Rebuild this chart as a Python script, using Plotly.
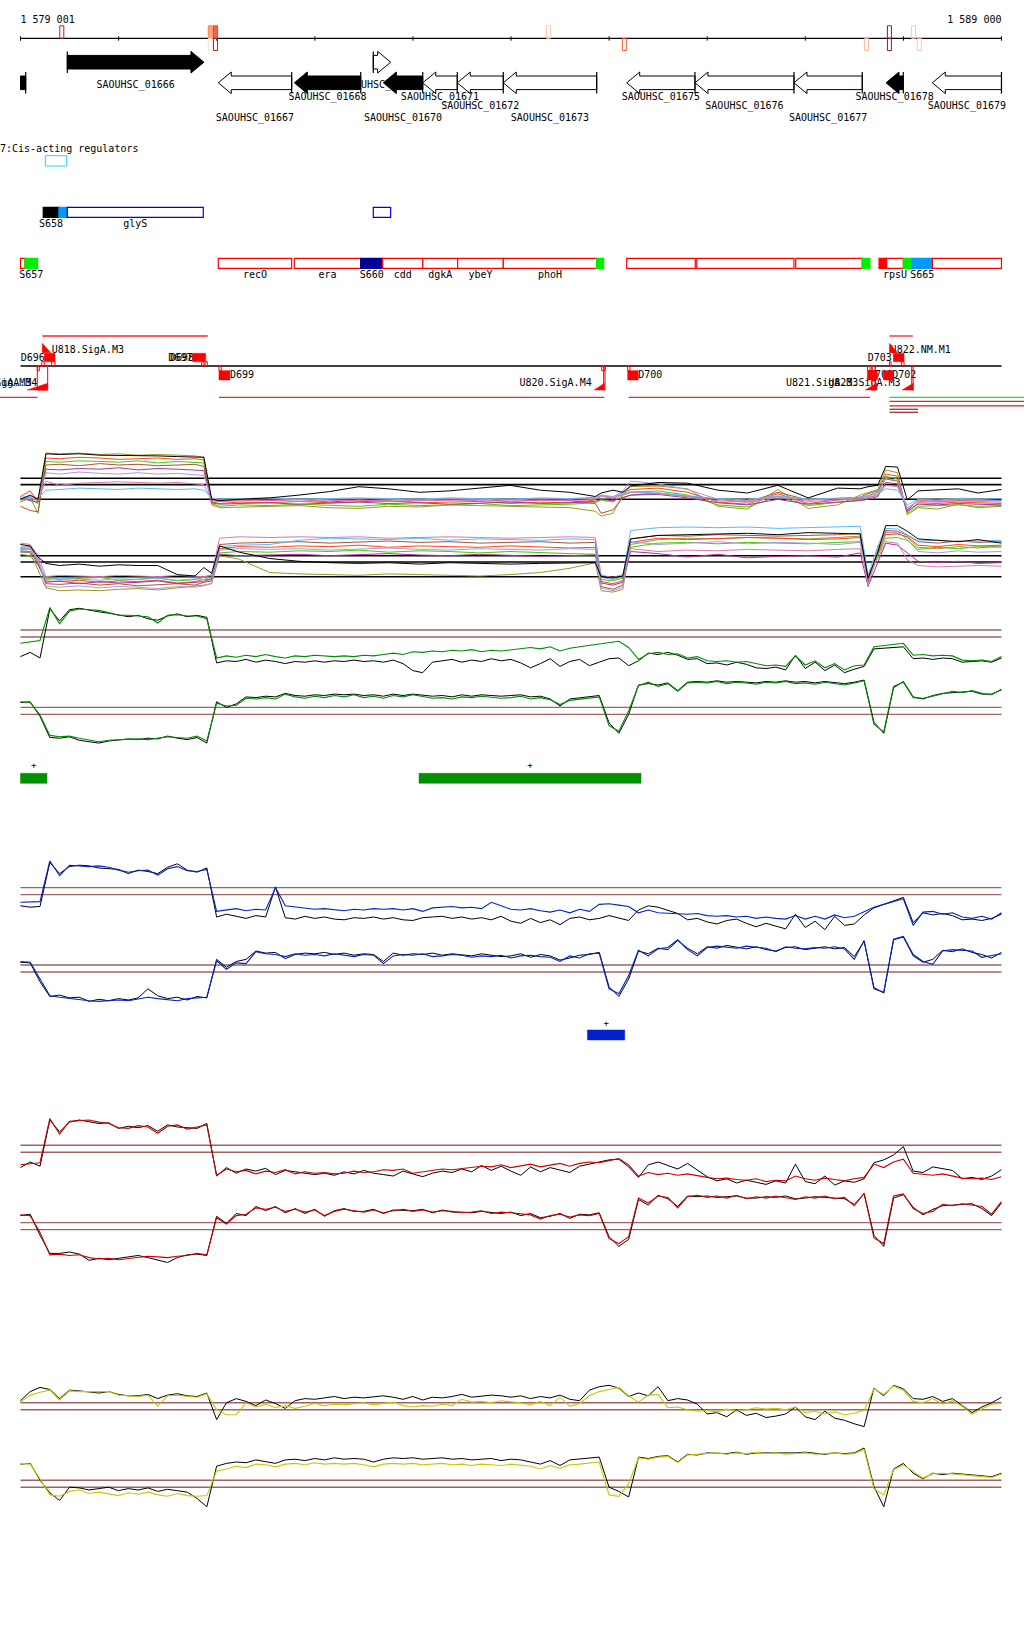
import plotly.graph_objects as go

# ===================== DATA =====================
WIN_START = 1579001
WIN_END = 1589000
TICK_STEP = 1000
ruler_left_label = "1 579 001"
ruler_right_label = "1 589 000"

# ruler feature marks (bp) and their colours above / below the axis
mark_pos = [1579422, 1580935, 1580989, 1584383, 1585156, 1587624, 1587858, 1588103, 1588162]
mark_up_line = ["#b22222", "#ff7f50", "#e0482a", "#ffc8b8", None, None, "#a01818", "#ffc8b8", None]
mark_up_fill = [None, "#ffa585", "#ff6347", None, None, None, None, None, None]
mark_dn_line = [None, "#ffdccc", "#a52a2a", None, "#ff5533", "#ffb8a8", "#a01818", None, "#ffc8b8"]

# genes
gene_name = ["", "SAOUHSC_01666", "SAOUHSC_01667", "SAOUHSC_01668", "SAOUHSC_01669", "SAOUHSC_01670",
             "SAOUHSC_01671", "SAOUHSC_01672", "SAOUHSC_01673", "SAOUHSC_01675", "SAOUHSC_01676",
             "SAOUHSC_01677", "SAOUHSC_01678", "SAOUHSC_01679"]
gene_start = [1578850, 1579478, 1581017, 1581792, 1582597, 1582699, 1583101, 1583453, 1583922,
              1585180, 1585876, 1586885, 1587823, 1588295]
gene_end = [1579054, 1580871, 1581765, 1582469, 1582774, 1583101, 1583453, 1583922, 1584874,
            1585876, 1586885, 1587581, 1587999, 1589000]
gene_strand = ["-", "+", "-", "-", "+", "-", "-", "-", "-", "-", "-", "-", "-", "-"]
gene_fill = ["black", "black", "white", "black", "white", "black", "white", "white", "white",
             "white", "white", "white", "black", "white"]
gene_label_level = [None, 0, 3, 1, 0, 3, 1, 2, 3, 1, 2, 3, 1, 2]

# cis-acting regulators
cis_title = "7:Cis-acting regulators"
cis_start = [1579254]
cis_end = [1579472]

# segment rows
seg1_start = [1579233, 1579393, 1579478, 1582597]
seg1_end = [1579393, 1579478, 1580864, 1582774]
seg1_kind = ["black", "sky", "blue_open", "blue_open"]
seg1_label = ["S658", "", "glyS", ""]

seg2_start = [1579001, 1579047, 1581017, 1581792, 1582469, 1582693, 1583101, 1583457, 1583922, 1584874,
              1585180, 1585894, 1586903, 1587581, 1587752, 1587830, 1588000, 1588089, 1588296]
seg2_end = [1579047, 1579176, 1581765, 1582469, 1582693, 1583101, 1583457, 1583922, 1584874, 1584945,
            1585879, 1586885, 1587581, 1587660, 1587830, 1588000, 1588089, 1588296, 1589000]
seg2_kind = ["red_open", "green", "red_open", "red_open", "navy", "red_open", "red_open", "red_open",
             "red_open", "green", "red_open", "red_open", "red_open", "green", "red", "red_open",
             "green", "sky", "red_open"]
seg2_label = ["", "S657", "recO", "era", "S660", "cdd", "dgkA", "ybeY", "phoH", "", "", "", "", "",
              "", "rpsU", "", "S665", ""]

# promoter / terminator track
up_box = [(1579244, 1579353), (1580756, 1580889), (1587898, 1588007)]
dn_box = [(1581024, 1581136), (1585190, 1585298), (1587633, 1587735), (1587796, 1587898)]
up_tri = [(1579223, 1579310), (1587858, 1587940)]
dn_tri = [(1579070, 1579278), (1584850, 1584952), (1587612, 1587731), (1587988, 1588100)]
up_tick = [(1579217, 1579244), (1579319, 1579353), (1580848, 1580871), (1580882, 1580905),
           (1587858, 1587875), (1587980, 1588007)]
dn_tick = [(1579172, 1579193), (1581024, 1581048), (1584925, 1584959), (1585190, 1585213),
           (1587633, 1587660), (1587680, 1587714)]
dn_stem = [(1579172, 1579278), (1584945, 1584959), (1587680, 1587714), (1588085, 1588100)]
tu_start = [1579223, 1587858, 1578700, 1581024, 1585200, 1587859, 1587859, 1587859, 1587859, 1587859]
tu_end = [1580909, 1588096, 1579176, 1584952, 1587660, 1589400, 1589400, 1589400, 1588150, 1588150]
tu_kind = ["top", "top", "bot", "bot", "bot", "bot_g", "bot2", "bot3", "bot4", "bot5"]
prom_text = ["U818.SigA.M3", "D696", "D697", "D698", "U816.SigA.M3", "U817.SigA.M4", "D699",
             "U820.SigA.M4", "D700", "U821.SigA.M3", "U823.SigA.M3", "D703", "U822.NM.M1", "D701", "D702"]
prom_text_pos = [1579319, 1579003, 1580508, 1580525, 1579111, 1579172, 1581136, 1584823, 1585298,
                 1586804, 1587235, 1587637, 1587870, 1587650, 1587887]
prom_text_side = ["r", "r", "r", "r", "l", "l", "r", "l", "r", "r", "r", "r", "r", "r", "r"]
prom_text_row = ["u1", "u2", "u2", "u2", "d2", "d2", "d1", "d2", "d1", "d2", "d2", "u2", "u1", "d1", "d1"]

# tiling-array profiles (irregular ~200-bp grid)
pos_t = [1579000, 1579100, 1579180, 1579260, 1579400, 1579600, 1579810, 1580000, 1580200, 1580400,
         1580600, 1580780, 1580870, 1580950, 1581030, 1581230, 1581540, 1581840, 1582150, 1582450,
         1582750, 1583070, 1583370, 1583680, 1583990, 1584300, 1584600, 1584860, 1584920, 1585040,
         1585140, 1585220, 1585500, 1585800, 1586110, 1586410, 1586720, 1587030, 1587330, 1587560,
         1587640, 1587740, 1587820, 1587940, 1588040, 1588150, 1588350, 1588560, 1588760, 1589000]
tiling_ref = [10.0, 9.1, 7.0]
tU_k = [7.0, 7.6, 7.0, 13.5, 13.4, 13.5, 13.3, 13.3, 13.2, 13.2, 13.1, 13.1, 13.0, 7.0, 6.8, 7.0, 7.2, 7.6, 8.1, 8.8,
        8.5, 8.0, 8.2, 8.6, 9.0, 8.3, 8.0, 7.4, 7.9, 8.3, 8.0, 8.9, 9.4, 9.3, 8.3, 7.9, 9.0, 7.2, 8.6, 8.5,
        8.8, 9.0, 11.7, 11.6, 6.9, 8.2, 8.3, 8.5, 7.9, 8.4]
tU_1 = [6.6, 7.2, 5.0, 13.6, 13.5, 13.6, 13.4, 13.5, 13.3, 13.4, 13.3, 13.2, 13.0, 6.2, 5.8, 5.9, 6.0, 6.1, 5.8, 5.7,
        6.0, 5.9, 6.2, 6.1, 6.0, 5.9, 5.8, 5.3, 4.6, 5.0, 7.6, 8.8, 8.9, 8.5, 6.0, 5.6, 8.4, 5.7, 6.2, 7.6,
        8.0, 8.4, 11.2, 10.8, 4.8, 5.8, 5.6, 6.3, 5.8, 6.0]
tU_2 = [7.4, 8.2, 6.6, 12.9, 12.8, 13.0, 12.9, 12.7, 12.8, 12.9, 12.7, 12.8, 12.6, 6.6, 6.4, 6.6, 6.5, 6.7, 6.5, 6.6,
        6.8, 6.5, 6.6, 6.7, 6.4, 6.6, 6.5, 6.9, 7.6, 7.0, 8.0, 8.4, 8.6, 8.0, 6.6, 6.3, 7.8, 6.4, 6.9, 7.2,
        7.5, 8.0, 10.6, 10.3, 5.2, 6.5, 6.4, 6.6, 6.5, 6.4]
tU_3 = [6.9, 7.0, 6.4, 12.4, 12.3, 12.5, 12.4, 12.3, 12.5, 12.2, 12.4, 12.3, 12.2, 6.4, 6.0, 6.2, 6.1, 6.3, 6.2, 6.0,
        6.3, 6.1, 6.2, 6.4, 6.1, 6.2, 6.3, 6.5, 6.9, 6.6, 7.6, 8.0, 8.2, 7.6, 6.2, 5.9, 7.4, 6.1, 6.5, 6.9,
        7.2, 7.6, 10.3, 9.9, 5.0, 6.0, 6.1, 6.2, 6.0, 6.1]
tU_4 = [6.0, 5.4, 5.2, 11.9, 12.0, 11.8, 12.1, 11.9, 12.0, 11.8, 11.9, 12.0, 11.7, 6.8, 6.7, 6.9, 6.8, 7.0, 6.6, 6.9,
        6.7, 6.8, 6.9, 7.0, 6.7, 6.9, 6.8, 6.4, 5.0, 5.5, 7.2, 7.6, 7.9, 7.4, 7.0, 6.6, 8.0, 6.9, 7.1, 7.3,
        7.8, 8.2, 9.9, 9.6, 5.4, 6.9, 6.7, 6.8, 6.9, 6.8]
tU_5 = [7.2, 6.8, 6.6, 11.3, 11.2, 11.4, 11.3, 11.5, 11.2, 11.4, 11.3, 11.2, 11.1, 6.5, 6.3, 6.4, 6.5, 6.3, 6.4, 6.6,
        6.4, 6.5, 6.3, 6.4, 6.6, 6.4, 6.5, 6.7, 7.0, 6.8, 7.3, 7.6, 7.7, 7.2, 6.5, 6.2, 7.0, 6.3, 6.6, 6.8,
        7.0, 7.4, 9.4, 9.2, 5.3, 6.3, 6.2, 6.4, 6.3, 6.2]
tU_6 = [7.1, 7.3, 6.9, 9.6, 9.0, 9.3, 9.4, 9.5, 9.4, 9.3, 9.4, 9.2, 9.1, 6.9, 6.7, 6.8, 6.9, 6.7, 6.8, 6.9,
        6.7, 6.8, 6.9, 6.8, 6.7, 6.9, 6.8, 7.0, 7.4, 7.2, 7.6, 8.0, 7.8, 7.4, 6.8, 6.6, 7.3, 6.7, 6.9, 7.0,
        7.3, 7.6, 9.0, 8.8, 5.8, 6.7, 6.6, 6.8, 6.7, 6.6]
tU_7 = [7.3, 7.4, 7.2, 8.3, 8.4, 8.6, 8.5, 8.4, 8.6, 8.5, 8.4, 8.5, 8.3, 7.2, 7.0, 7.1, 7.2, 7.0, 7.1, 7.2,
        7.1, 7.0, 7.2, 7.1, 7.0, 7.2, 7.1, 7.3, 7.6, 7.4, 7.8, 8.1, 7.9, 7.5, 7.1, 6.9, 7.5, 7.0, 7.2, 7.3,
        7.5, 7.8, 8.5, 8.3, 6.2, 7.0, 6.9, 7.1, 7.0, 7.1]
tU_8 = [7.0, 7.1, 6.8, 10.8, 10.6, 10.9, 10.7, 10.6, 10.8, 10.6, 10.7, 10.5, 10.4, 7.1, 6.9, 7.0, 7.1, 6.9, 7.0, 7.1,
        7.0, 6.9, 7.1, 7.0, 6.9, 7.1, 7.0, 7.2, 7.5, 7.3, 8.2, 9.6, 9.2, 8.4, 7.0, 6.8, 7.4, 6.9, 7.1, 7.2,
        7.4, 8.0, 10.0, 9.7, 5.6, 6.9, 6.8, 7.0, 6.9, 6.8]
tL_k = [11.6, 11.4, 9.8, 8.9, 8.6, 8.8, 8.5, 8.7, 8.6, 8.6, 7.3, 7.1, 8.3, 7.5, 11.4, 10.5, 9.6, 9.2, 9.0, 8.9,
        9.0, 8.8, 9.0, 8.9, 8.8, 8.9, 8.9, 9.0, 7.0, 6.8, 7.1, 12.4, 12.9, 13.0, 13.1, 13.2, 13.0, 13.3, 13.2, 13.1,
        6.8, 10.5, 14.3, 14.3, 13.5, 12.4, 12.2, 12.0, 12.3, 11.8]
tL_1 = [10.6, 10.4, 8.0, 5.4, 5.0, 5.1, 5.0, 5.2, 5.3, 5.1, 5.4, 5.6, 5.8, 6.0, 10.0, 9.5, 7.6, 7.4, 7.3, 7.2,
        7.4, 7.3, 7.2, 7.1, 7.3, 7.6, 8.2, 9.0, 5.0, 4.8, 5.2, 11.6, 12.3, 12.5, 12.4, 12.6, 12.5, 12.4, 12.6, 12.8,
        6.0, 10.0, 13.4, 13.2, 12.6, 11.2, 11.0, 11.3, 11.1, 11.4]
tL_2 = [10.9, 11.0, 9.0, 6.4, 6.3, 6.5, 6.2, 6.4, 6.3, 6.5, 6.1, 6.3, 6.6, 6.5, 11.0, 11.3, 11.2, 11.4, 11.3, 11.5,
        11.2, 11.4, 11.3, 11.2, 11.4, 11.3, 11.1, 11.2, 6.3, 6.0, 6.4, 11.9, 12.5, 12.3, 12.4, 12.6, 12.5, 12.3, 12.4, 12.6,
        6.5, 10.4, 13.0, 13.1, 12.7, 11.5, 11.3, 11.6, 11.4, 11.5]
tL_3 = [10.2, 10.0, 8.6, 6.8, 6.6, 6.7, 6.9, 6.5, 6.6, 6.8, 6.4, 6.6, 6.9, 7.2, 10.4, 10.6, 10.5, 10.7, 10.6, 10.8,
        10.5, 10.7, 10.6, 10.4, 10.6, 10.5, 10.3, 10.2, 6.6, 6.4, 6.8, 11.2, 11.8, 11.9, 11.7, 11.9, 11.8, 11.7, 11.9, 12.0,
        7.0, 10.0, 12.5, 12.6, 12.2, 10.9, 11.2, 11.0, 11.3, 11.2]
tL_4 = [11.2, 11.3, 9.4, 6.0, 5.9, 6.1, 5.8, 6.0, 5.7, 5.9, 6.0, 5.8, 6.2, 6.4, 11.6, 11.8, 11.9, 12.0, 11.8, 11.9,
        12.1, 11.9, 12.0, 11.8, 11.9, 12.0, 11.8, 11.9, 5.6, 5.2, 5.8, 12.4, 12.9, 12.8, 13.0, 12.9, 12.8, 12.9, 13.0, 13.2,
        6.2, 11.0, 13.6, 13.5, 12.9, 12.0, 11.8, 12.1, 11.9, 12.0]
tL_5 = [10.5, 10.6, 8.8, 6.2, 6.4, 6.0, 6.3, 6.1, 6.2, 6.4, 6.0, 6.2, 6.3, 6.8, 10.2, 10.0, 10.1, 10.2, 10.0, 10.1,
        10.3, 10.1, 10.0, 10.2, 10.1, 9.9, 10.0, 10.1, 6.1, 5.8, 6.2, 10.6, 10.3, 9.8, 10.2, 9.7, 9.9, 10.0, 9.8, 10.4,
        5.6, 9.0, 11.8, 11.5, 10.4, 9.2, 9.0, 9.2, 8.9, 9.0]
tL_6 = [11.8, 11.6, 10.0, 7.0, 7.2, 7.1, 7.0, 7.2, 7.1, 7.0, 7.2, 7.1, 7.0, 7.3, 12.5, 12.7, 12.6, 12.7, 12.6, 12.7,
        12.5, 12.6, 12.7, 12.6, 12.5, 12.6, 12.7, 12.6, 7.2, 6.9, 7.3, 11.0, 10.6, 10.8, 10.7, 10.9, 10.8, 10.7, 10.9, 11.0,
        7.4, 9.6, 12.0, 11.8, 9.4, 8.6, 8.4, 8.5, 8.6, 8.5]
tL_7 = [11.0, 11.1, 9.2, 6.6, 6.8, 6.7, 6.5, 6.7, 6.6, 6.8, 6.5, 6.7, 6.6, 7.0, 11.3, 11.5, 11.6, 12.2, 12.5, 12.4,
        12.3, 12.5, 12.2, 12.4, 12.3, 12.2, 12.4, 12.3, 6.9, 6.6, 7.0, 13.6, 14.0, 14.1, 14.0, 14.1, 13.9, 14.0, 14.1, 14.2,
        7.2, 11.4, 13.9, 13.8, 13.0, 12.1, 12.2, 12.0, 12.1, 12.2]
tL_8 = [10.7, 10.9, 9.6, 5.6, 5.5, 5.7, 5.4, 5.6, 5.5, 5.3, 5.6, 5.5, 5.7, 6.1, 10.8, 11.0, 10.9, 11.0, 10.8, 10.9,
        11.1, 10.9, 10.8, 11.0, 10.9, 10.8, 11.0, 10.9, 5.4, 5.0, 5.5, 12.0, 11.6, 11.8, 12.0, 11.7, 11.9, 11.8, 11.6, 11.9,
        5.8, 10.8, 13.2, 13.4, 12.3, 10.6, 10.4, 10.7, 10.5, 10.6]
tiling_colors = ["#999922", "#ff4422", "#44cc00", "#aa5533", "#aa3399", "#dd77aa", "#55bbff", "#aa99dd"]

# condition profiles on a 100-bp grid
pos = list(range(1579000, 1589001, 100))
cond_ref = [10.0, 9.0]

gU_g = [8.1, 8.3, 8.5, 13.2, 10.9, 12.7, 13.0, 12.9, 12.8, 12.5, 12.1, 12.1, 12.0, 11.9, 11.0, 12.1, 12.2, 12.0, 12.0, 11.6,
        6.0, 6.3, 6.1, 6.4, 6.2, 6.5, 6.2, 6.0, 6.3, 6.2, 6.4, 6.3, 6.2, 6.3, 6.2, 6.4, 6.3, 6.5, 6.7, 6.5,
        6.9, 6.8, 7.0, 6.9, 7.1, 7.0, 7.2, 6.9, 7.1, 7.0, 7.2, 7.4, 7.5, 7.3, 7.6, 7.0, 7.4, 7.6, 7.8, 7.9,
        8.2, 8.4, 7.5, 5.8, 6.6, 6.8, 6.5, 6.6, 6.0, 6.2, 5.6, 5.5, 5.6, 5.4, 5.5, 5.2, 4.9, 5.0, 4.8, 6.3,
        5.0, 5.6, 4.6, 5.2, 4.3, 4.9, 5.0, 7.6, 7.8, 7.9, 8.1, 6.4, 6.5, 6.3, 6.4, 6.3, 5.7, 5.6, 5.7, 5.5, 6.2]
gU_k = [6.2, 6.8, 6.0, 13.0, 11.3, 12.9, 13.1, 12.8, 12.6, 12.4, 12.2, 11.9, 12.1, 11.6, 11.4, 12.0, 12.3, 11.9, 12.1, 11.8,
        5.3, 5.6, 5.5, 5.8, 5.4, 5.7, 5.5, 5.2, 5.5, 5.4, 5.6, 5.4, 5.6, 5.5, 5.7, 5.5, 5.6, 5.4, 5.7, 5.2,
        4.2, 3.9, 5.4, 5.6, 5.8, 5.4, 5.7, 5.5, 5.9, 5.6, 5.8, 5.3, 4.6, 5.2, 5.9, 4.8, 5.5, 5.8, 4.9, 5.4,
        5.9, 6.0, 4.9, 5.6, 6.7, 6.5, 6.8, 6.4, 5.8, 5.9, 5.2, 5.3, 5.0, 5.4, 5.1, 4.6, 4.5, 4.7, 4.3, 6.4,
        4.5, 5.4, 4.2, 5.0, 3.9, 4.4, 4.8, 7.3, 7.4, 7.5, 7.6, 5.9, 6.0, 5.8, 6.0, 5.9, 5.4, 5.5, 5.6, 5.4, 6.0]
gL_g = [10.8, 10.7, 8.9, 6.0, 5.8, 5.9, 5.6, 5.4, 5.1, 5.3, 5.4, 5.4, 5.5, 5.4, 5.6, 5.8, 5.7, 5.6, 5.9, 5.2,
        10.6, 10.2, 10.3, 11.3, 11.2, 11.4, 11.2, 11.9, 11.5, 11.3, 11.6, 11.4, 11.7, 11.5, 11.8, 11.4, 11.6, 11.3, 11.7, 11.5,
        11.8, 11.6, 11.3, 11.4, 11.2, 11.5, 11.4, 11.6, 11.5, 11.3, 11.4, 11.6, 11.2, 11.4, 11.1, 10.4, 11.0, 11.2, 11.3, 11.5,
        7.4, 6.6, 9.5, 13.1, 13.6, 13.0, 13.4, 12.3, 13.5, 13.6, 13.5, 13.7, 13.4, 13.6, 13.5, 13.3, 13.6, 13.5, 13.7, 13.4,
        13.5, 13.3, 13.6, 13.4, 13.2, 13.5, 13.8, 7.6, 6.5, 13.0, 13.6, 11.4, 11.3, 11.6, 11.9, 12.3, 12.1, 12.4, 12.0, 11.8, 12.6]
gL_k = [10.7, 10.8, 8.7, 5.7, 5.6, 5.8, 5.3, 5.1, 4.9, 5.2, 5.3, 5.5, 5.4, 5.6, 5.5, 5.9, 5.6, 5.4, 5.7, 4.9,
        10.8, 10.0, 10.5, 11.5, 11.4, 11.6, 11.5, 12.0, 11.7, 11.6, 11.8, 11.7, 11.9, 11.8, 11.9, 11.7, 11.8, 11.6, 11.9, 11.7,
        11.9, 11.8, 11.6, 11.7, 11.5, 11.8, 11.6, 11.8, 11.7, 11.6, 11.7, 11.8, 11.5, 11.6, 11.2, 10.2, 11.2, 11.4, 11.5, 11.7,
        7.8, 6.3, 9.0, 13.2, 13.4, 13.2, 13.5, 12.4, 13.6, 13.7, 13.6, 13.8, 13.6, 13.7, 13.6, 13.5, 13.7, 13.6, 13.8, 13.6,
        13.7, 13.5, 13.7, 13.6, 13.4, 13.6, 13.9, 7.9, 6.3, 12.8, 13.7, 11.5, 11.2, 11.7, 12.0, 12.1, 12.2, 12.3, 11.9, 11.9, 12.5]
bU_b = [7.9, 8.0, 8.0, 13.8, 11.7, 13.2, 13.1, 13.0, 13.1, 12.9, 12.5, 12.2, 12.4, 12.5, 11.8, 12.7, 13.0, 12.4, 12.3, 12.6,
        6.6, 6.8, 7.0, 6.7, 6.9, 6.8, 10.0, 7.4, 7.2, 7.0, 6.9, 7.0, 6.8, 6.7, 6.9, 6.8, 7.0, 6.9, 7.0, 6.8,
        7.0, 6.6, 7.1, 7.2, 7.3, 7.1, 7.2, 7.0, 7.9, 7.4, 6.9, 6.8, 7.0, 6.7, 6.5, 6.8, 6.4, 6.9, 6.6, 7.6,
        7.7, 7.5, 7.3, 6.4, 6.8, 6.4, 6.3, 6.3, 6.2, 6.3, 6.0, 5.9, 6.0, 5.8, 5.9, 5.6, 5.8, 5.6, 5.5, 6.0,
        5.5, 5.9, 5.5, 6.1, 5.7, 5.9, 6.6, 7.2, 7.6, 8.0, 8.4, 4.6, 6.5, 6.6, 6.2, 6.4, 5.8, 5.6, 5.9, 5.5, 6.4]
bU_k = [7.4, 7.2, 7.3, 13.6, 12.0, 13.0, 13.2, 13.1, 12.8, 12.7, 12.6, 12.0, 12.5, 12.3, 12.0, 12.9, 13.4, 12.5, 12.2, 12.8,
        5.8, 6.2, 5.9, 5.6, 6.0, 5.8, 10.1, 5.7, 5.5, 5.9, 5.6, 5.8, 5.5, 5.4, 5.7, 5.6, 5.8, 5.5, 5.7, 5.4,
        5.3, 5.7, 5.8, 5.9, 5.6, 5.8, 5.5, 5.7, 5.4, 5.9, 5.2, 4.9, 5.6, 5.0, 5.4, 4.7, 5.6, 5.8, 5.4, 5.6,
        6.0, 5.7, 5.3, 6.8, 7.4, 7.2, 6.7, 6.3, 5.4, 5.6, 5.1, 4.8, 5.3, 5.5, 4.9, 4.4, 4.9, 4.5, 4.1, 6.2,
        4.3, 5.2, 4.0, 5.9, 4.6, 4.8, 6.1, 7.1, 7.6, 8.1, 8.6, 5.0, 6.4, 6.1, 6.3, 6.0, 5.4, 5.5, 5.3, 5.6, 6.2]
bL_b = [10.5, 10.4, 8.0, 5.6, 5.4, 5.2, 5.0, 4.9, 4.8, 4.9, 5.0, 4.9, 5.1, 5.4, 5.2, 5.0, 4.9, 5.2, 5.3, 5.4,
        10.6, 9.4, 10.3, 10.2, 11.9, 11.6, 11.5, 11.2, 11.6, 11.4, 11.5, 11.3, 11.6, 11.4, 11.2, 11.5, 11.4, 10.2, 11.3, 11.5,
        11.4, 11.6, 11.2, 11.3, 11.5, 11.4, 11.1, 11.3, 11.2, 11.4, 11.0, 11.3, 11.4, 11.2, 11.1, 10.5, 11.3, 11.0, 11.6, 11.7,
        6.6, 5.9, 8.5, 12.1, 11.3, 12.3, 12.5, 13.6, 12.2, 11.3, 12.5, 12.7, 12.6, 12.4, 12.7, 12.5, 12.4, 11.9, 12.6, 12.4,
        12.3, 12.5, 12.4, 12.6, 12.3, 10.8, 13.5, 6.6, 6.1, 13.7, 14.1, 11.5, 10.5, 10.1, 12.0, 12.2, 12.1, 12.0, 11.1, 11.3, 11.6]
bL_k = [10.4, 10.3, 7.6, 5.5, 5.7, 5.3, 5.4, 4.8, 5.1, 4.9, 5.2, 5.0, 5.3, 6.6, 5.6, 5.2, 5.4, 5.0, 5.5, 5.3,
        10.8, 9.7, 10.5, 10.8, 12.0, 11.7, 11.8, 10.9, 11.5, 11.7, 11.6, 11.8, 11.5, 11.7, 11.4, 11.6, 11.5, 10.5, 11.7, 11.4,
        11.6, 11.5, 11.7, 11.4, 11.6, 11.5, 11.3, 11.6, 11.4, 11.2, 11.3, 11.6, 11.1, 11.5, 11.3, 10.7, 11.0, 11.4, 11.5, 11.8,
        6.9, 5.5, 8.0, 12.0, 11.6, 12.4, 12.2, 13.5, 12.4, 11.6, 12.6, 12.4, 12.8, 12.5, 12.3, 12.6, 12.2, 12.0, 12.5, 12.6,
        12.2, 12.4, 12.6, 12.3, 12.5, 11.2, 13.4, 6.8, 6.0, 13.6, 14.0, 11.3, 10.4, 10.8, 12.1, 11.9, 12.3, 11.8, 11.5, 11.0, 11.8]
rU_r = [7.2, 7.4, 7.5, 13.8, 11.6, 13.4, 13.5, 13.6, 13.3, 13.1, 12.5, 12.4, 12.8, 12.6, 11.7, 12.7, 12.9, 12.3, 12.6, 12.9,
        5.7, 6.6, 6.2, 6.4, 5.9, 6.3, 6.1, 6.5, 5.9, 6.2, 6.0, 6.1, 5.9, 6.0, 6.3, 6.1, 6.2, 6.5, 6.4, 6.6,
        6.0, 6.2, 6.4, 6.6, 6.5, 6.7, 6.8, 7.0, 6.9, 7.2, 6.8, 7.0, 7.3, 6.9, 7.1, 7.4, 7.0, 7.4, 7.6, 7.5,
        7.8, 8.1, 7.2, 5.6, 6.1, 5.8, 6.0, 5.7, 5.9, 5.6, 5.4, 5.2, 5.3, 5.1, 5.0, 5.2, 4.8, 5.0, 4.9, 5.6,
        5.2, 5.0, 5.3, 5.1, 4.9, 5.2, 5.4, 7.3, 6.8, 7.6, 8.0, 6.0, 5.8, 5.7, 5.9, 5.6, 5.3, 5.2, 5.3, 5.1, 5.5]
rU_k = [6.8, 7.6, 7.0, 13.6, 11.9, 13.3, 13.6, 13.4, 13.1, 13.2, 12.4, 12.7, 12.5, 12.8, 12.0, 12.9, 12.6, 12.5, 12.4, 13.1,
        5.6, 6.8, 6.0, 6.6, 6.3, 6.7, 5.8, 6.4, 6.2, 6.0, 5.8, 6.0, 5.7, 6.2, 5.9, 6.4, 6.0, 5.8, 5.6, 6.3,
        5.9, 5.5, 6.0, 6.3, 6.1, 6.6, 6.2, 7.1, 6.4, 7.0, 6.3, 5.7, 6.9, 6.2, 6.8, 6.5, 6.1, 7.0, 7.3, 7.6,
        7.9, 8.0, 6.9, 5.4, 7.2, 7.6, 7.1, 6.6, 7.4, 6.4, 5.5, 4.9, 5.2, 4.6, 5.0, 4.7, 4.4, 4.9, 4.6, 7.3,
        4.8, 4.5, 5.6, 4.3, 4.9, 4.7, 5.2, 7.5, 7.9, 8.6, 9.8, 6.3, 6.1, 6.9, 6.6, 6.4, 5.2, 5.4, 5.1, 5.6, 6.5]
rL_r = [11.1, 11.0, 8.6, 5.4, 5.5, 5.3, 5.4, 5.0, 4.8, 4.9, 4.7, 4.9, 5.1, 5.2, 5.1, 5.0, 5.2, 5.3, 5.6, 5.4,
        10.7, 9.8, 11.0, 11.2, 12.1, 11.9, 12.2, 11.6, 11.9, 11.5, 11.8, 11.0, 11.6, 11.9, 11.7, 11.5, 11.8, 11.4, 11.7, 11.9,
        11.6, 11.8, 11.5, 11.7, 11.6, 11.4, 11.5, 11.7, 11.3, 11.5, 11.4, 11.2, 11.1, 10.5, 11.0, 11.2, 10.8, 11.1, 11.0, 11.3,
        7.7, 7.0, 8.0, 13.5, 12.8, 13.8, 13.6, 12.1, 13.7, 13.9, 13.6, 13.8, 13.5, 13.9, 13.4, 13.7, 13.5, 13.8, 13.6, 13.3,
        13.7, 13.5, 13.8, 13.4, 13.6, 12.4, 14.2, 7.8, 7.0, 13.8, 14.1, 12.0, 11.3, 11.6, 12.6, 12.4, 12.7, 12.5, 12.3, 11.2, 13.0]
rL_k = [11.0, 11.2, 8.2, 5.6, 5.6, 5.8, 5.5, 4.6, 4.9, 4.7, 4.9, 5.1, 5.3, 5.0, 4.7, 4.3, 5.0, 5.4, 5.5, 5.3,
        10.9, 9.9, 11.3, 11.0, 12.3, 11.7, 12.3, 11.4, 12.0, 11.3, 11.9, 10.9, 11.7, 12.0, 11.6, 11.6, 11.9, 11.3, 11.8, 11.8,
        11.7, 11.9, 11.4, 11.8, 11.5, 11.5, 11.4, 11.6, 11.4, 11.3, 11.5, 11.0, 11.3, 10.7, 10.9, 11.3, 10.6, 11.2, 11.1, 11.4,
        8.0, 6.6, 7.6, 13.3, 12.5, 13.9, 13.4, 12.3, 13.8, 13.7, 13.8, 13.6, 13.7, 13.8, 13.5, 13.5, 13.7, 13.6, 13.8, 13.4,
        13.5, 13.7, 13.6, 13.5, 13.4, 12.6, 14.1, 8.2, 6.6, 13.5, 14.0, 12.2, 11.1, 11.9, 12.4, 12.5, 12.6, 12.7, 12.0, 11.0, 12.8]
yU_y = [10.1, 11.1, 11.5, 11.8, 10.4, 11.7, 11.6, 11.6, 11.5, 11.6, 11.1, 11.0, 10.9, 11.1, 9.5, 11.0, 11.1, 10.9, 10.8, 11.3,
        9.0, 8.3, 8.3, 10.0, 9.4, 9.8, 9.3, 9.6, 9.2, 9.5, 9.9, 9.6, 9.8, 9.7, 9.9, 10.0, 9.7, 9.9, 10.1, 9.6,
        9.4, 9.6, 9.5, 9.8, 9.6, 10.5, 10.1, 10.2, 10.0, 10.3, 10.2, 10.0, 9.7, 10.2, 9.6, 10.8, 9.5, 9.9, 11.0, 11.6,
        11.9, 12.2, 11.0, 10.1, 11.1, 11.2, 9.3, 9.4, 9.0, 8.8, 8.9, 8.7, 9.1, 8.8, 9.0, 9.3, 9.1, 9.2, 9.0, 9.4,
        8.6, 8.8, 8.4, 8.7, 8.3, 8.5, 8.9, 12.0, 11.2, 12.4, 11.8, 10.2, 10.0, 10.6, 9.8, 10.3, 9.5, 8.4, 9.1, 9.8, 9.9]
yU_k = [10.3, 11.6, 12.2, 11.9, 10.6, 11.8, 11.7, 11.5, 11.4, 11.6, 11.2, 11.0, 11.0, 11.2, 10.6, 11.1, 11.3, 11.0, 10.9, 11.4,
        7.6, 10.0, 10.6, 10.2, 9.6, 10.4, 9.9, 9.2, 10.3, 10.6, 10.5, 10.7, 10.9, 10.6, 10.8, 10.7, 10.9, 11.0, 10.8, 10.5,
        10.9, 10.4, 10.8, 10.7, 10.9, 11.2, 10.8, 11.0, 11.1, 11.0, 10.8, 11.0, 10.6, 10.9, 10.7, 11.1, 10.5, 10.3, 11.8, 12.3,
        12.5, 12.1, 10.9, 11.4, 11.0, 12.3, 10.3, 10.6, 10.4, 9.8, 8.4, 8.6, 8.0, 9.0, 8.2, 8.5, 7.9, 8.1, 8.4, 9.4,
        8.0, 7.6, 8.8, 7.8, 7.5, 7.0, 6.6, 12.1, 11.0, 12.5, 12.0, 10.6, 10.5, 10.9, 10.2, 10.6, 9.6, 8.6, 9.4, 10.0, 10.8]
yL_y = [12.4, 12.3, 10.2, 7.9, 7.7, 8.4, 8.6, 8.1, 8.3, 8.0, 7.8, 8.2, 8.0, 8.3, 7.9, 7.7, 8.1, 7.8, 7.7, 7.8,
        11.3, 11.6, 12.0, 11.8, 12.3, 12.2, 11.9, 12.3, 12.4, 12.2, 12.5, 12.3, 12.4, 12.3, 12.4, 12.2, 11.9, 12.3, 12.4, 12.3,
        12.4, 12.2, 12.3, 12.4, 12.2, 12.3, 12.1, 12.3, 12.2, 12.1, 12.3, 12.2, 12.0, 11.6, 12.1, 11.7, 12.2, 12.3, 12.4, 12.6,
        7.9, 7.7, 9.5, 13.2, 13.0, 13.3, 13.4, 12.5, 13.6, 13.7, 13.8, 13.9, 13.7, 13.9, 13.8, 14.0, 13.8, 13.9, 13.7, 13.8,
        13.9, 13.7, 13.8, 13.9, 13.7, 13.8, 14.4, 8.8, 7.9, 11.5, 12.2, 11.2, 10.3, 10.9, 11.0, 10.9, 10.8, 10.7, 10.6, 10.4, 10.9]
yL_k = [12.3, 12.4, 10.0, 8.2, 7.1, 9.0, 8.9, 8.6, 8.8, 9.0, 8.5, 8.8, 8.6, 8.9, 8.4, 8.7, 8.5, 8.3, 7.4, 6.2,
        12.0, 12.4, 12.6, 12.5, 12.9, 12.7, 12.4, 12.9, 13.0, 12.8, 13.1, 12.9, 13.2, 13.0, 13.1, 13.0, 12.6, 13.0, 13.2, 13.1,
        13.2, 13.0, 13.1, 13.2, 13.0, 13.1, 12.9, 13.0, 13.1, 12.8, 13.0, 12.9, 12.6, 12.3, 12.8, 12.1, 12.9, 13.0, 13.2, 13.3,
        9.0, 8.4, 7.6, 13.3, 13.1, 13.4, 13.5, 12.6, 13.7, 13.6, 13.9, 13.8, 13.8, 14.0, 13.7, 13.9, 13.9, 13.8, 13.8, 13.9,
        14.0, 13.8, 13.7, 13.9, 13.8, 13.9, 14.6, 9.1, 6.2, 11.6, 12.4, 11.0, 10.2, 11.0, 10.8, 11.0, 10.9, 10.8, 10.7, 10.5, 11.0]

# highlighted regions under the green and blue panels
feat_start = [1579001, 1583063, 1584780]
feat_end = [1579271, 1585326, 1585160]
feat_panel = ["green", "green", "blue"]
feat_sign = ["+", "+", "+"]

# ===================== LAYOUT / STYLE =====================
W, H = 1024, 1640
PX0 = 20.5                 # pixel of window start
BP_PER_PX = 10.193
x_left = WIN_START - PX0 * BP_PER_PX
x_right = WIN_START + (W - PX0) * BP_PER_PX
MONO = "DejaVu Sans Mono, Liberation Mono, monospace"

fig = go.Figure()
shapes = []


def rect(x0, x1, y0, y1, fill=None, line=None, lw=1.0, yref="y", layer="above"):
    shapes.append(dict(type="rect", xref="x", yref=yref, x0=x0, x1=x1, y0=y0, y1=y1,
                       fillcolor=fill if fill else "rgba(0,0,0,0)",
                       line=dict(color=line if line else "rgba(0,0,0,0)", width=lw if line else 0),
                       layer=layer))


def seg(x0, x1, y0, y1, color, lw=1.0, yref="y", layer="above"):
    shapes.append(dict(type="line", xref="x", yref=yref, x0=x0, x1=x1, y0=y0, y1=y1,
                       line=dict(color=color, width=lw), layer=layer))


def poly(pts, fill, line, lw=1.0):
    d = "M " + " L ".join(f"{x:.1f},{y:.2f}" for x, y in pts) + " Z"
    shapes.append(dict(type="path", xref="x", yref="y", path=d, fillcolor=fill,
                       line=dict(color=line, width=lw), layer="above"))


def text(xs, ys, labels, position="middle center", size=10, color="black", yaxis="y"):
    fig.add_trace(go.Scatter(x=xs, y=ys, text=labels, mode="text", textposition=position,
                             textfont=dict(family=MONO, size=size, color=color),
                             hoverinfo="skip", showlegend=False, yaxis=yaxis, cliponaxis=False))


# ---------- ruler ----------
RULER_Y = 38.3
text([WIN_START], [20.7], [ruler_left_label], "middle right")
text([WIN_END], [20.7], [ruler_right_label], "middle left")
seg(WIN_START, WIN_END, RULER_Y, RULER_Y, "black", 1.2)
ticks = list(range(WIN_START, WIN_END, TICK_STEP)) + [WIN_END]
for t in ticks:
    seg(t, t, RULER_Y - 2, RULER_Y + 2.4, "black", 1)
hw = 2.0 * BP_PER_PX
for p, ul, uf, dl in zip(mark_pos, mark_up_line, mark_up_fill, mark_dn_line):
    if ul:
        rect(p - hw, p + hw, RULER_Y - 12.5, RULER_Y, fill=uf, line=ul, lw=1)
    if dl:
        rect(p - hw, p + hw, RULER_Y, RULER_Y + 12.2, line=dl, lw=1)

# ---------- genes ----------
ROW_Y = {"+": 62.2, "-": 82.8}
LABEL_Y = [85.6, 97.3, 106.0, 118.3]
BODY_H, HEAD_H = 6.8, 10.8
head_bp = 13 * BP_PER_PX
for name, s, e, st, fill, lvl in zip(gene_name, gene_start, gene_end, gene_strand, gene_fill, gene_label_level):
    if name and lvl is not None:
        text([(s + min(e, WIN_END)) / 2], [LABEL_Y[lvl]], [name])
for name, s, e, st, fill in zip(gene_name, gene_start, gene_end, gene_strand, gene_fill):
    yc = ROW_Y[st]
    s_d, e_d = max(s, WIN_START), min(e, WIN_END)
    if st == "+":
        if e > WIN_END:
            pts = [(s_d, yc - BODY_H), (e_d, yc - BODY_H), (e_d, yc + BODY_H), (s_d, yc + BODY_H)]
        else:
            hb = max(s_d, e - head_bp)
            pts = [(s_d, yc - BODY_H), (hb, yc - BODY_H), (hb, yc - HEAD_H), (e, yc),
                   (hb, yc + HEAD_H), (hb, yc + BODY_H), (s_d, yc + BODY_H)]
        tail = s_d
    else:
        if s < WIN_START:
            pts = [(s_d, yc - BODY_H), (e_d, yc - BODY_H), (e_d, yc + BODY_H), (s_d, yc + BODY_H)]
        else:
            hb = min(e_d, s + head_bp)
            pts = [(s, yc), (hb, yc - HEAD_H), (hb, yc - BODY_H), (e_d, yc - BODY_H),
                   (e_d, yc + BODY_H), (hb, yc + BODY_H), (hb, yc + HEAD_H)]
        tail = e_d
    poly(pts, fill, "black", 1)
    seg(tail, tail, yc - HEAD_H, yc + HEAD_H, "black", 1.2)

# ---------- cis-acting regulators ----------
text([x_left], [149.0], [cis_title], "middle right")
for s, e in zip(cis_start, cis_end):
    rect(s, e, 155.7, 166.0, line="#22dddd", lw=1)

STYLE = {"black": ("black", "black"), "sky": ("#0099ff", "#0099ff"),
         "blue_open": ("white", "#0000ee"), "red_open": ("white", "#ff0000"),
         "green": ("#00ee00", "#00ee00"), "navy": ("#000099", "#000099"), "red": ("#ff0000", "#ff0000")}


def seg_row(starts, ends, kinds, labels, y0, y1, ylab):
    lx, ly, lt = [], [], []
    for s, e, k, lab in zip(starts, ends, kinds, labels):
        f, l = STYLE[k]
        rect(s, e, y0, y1, fill=f, line=l, lw=1.2)
        if lab:
            lx.append((s + e) / 2); ly.append(ylab); lt.append(lab)
    text(lx, ly, lt)


seg_row(seg1_start, seg1_end, seg1_kind, seg1_label, 207.3, 217.3, 224.6)
seg_row(seg2_start, seg2_end, seg2_kind, seg2_label, 258.3, 268.3, 275.8)

# ---------- promoter / terminator track ----------
PROM_ROW = {"u1": 350.3, "u2": 358.0, "d1": 375.7, "d2": 383.3}
for lab, p, side, row in zip(prom_text, prom_text_pos, prom_text_side, prom_text_row):
    text([p], [PROM_ROW[row]], [lab], "middle right" if side == "r" else "middle left")
LINE_Y = 366.0
seg(WIN_START, WIN_END, LINE_Y, LINE_Y, "black", 1.3)
TU_STYLE = {"top": (336.0, "#ff2020"), "bot": (397.3, "#ff2020"), "bot_g": (397.3, "#22dd22"),
            "bot2": (401.3, "#ee2020"), "bot3": (405.8, "#cc2020"), "bot4": (409.3, "#993333"),
            "bot5": (412.3, "#993333")}
for s, e, k in zip(tu_start, tu_end, tu_kind):
    yy, c = TU_STYLE[k]
    seg(s, e, yy, yy, c, 1.3)
for s, e in up_box:
    rect(s, e, 353.3, 361.7, fill="#ff0000", line="#ff0000", lw=0.5)
for s, e in dn_box:
    rect(s, e, 370.7, 380.0, fill="#ff0000", line="#ff0000", lw=0.5)
for s, e in up_tick:
    rect(s, e, 361.7, 366.0, line="#ff0000", lw=1)
for s, e in dn_tick:
    rect(s, e, 366.0, 370.7, line="#ff0000", lw=1)
for s, e in dn_stem:
    rect(s, e, 366.0, 390.0, line="#ff0000", lw=1)
for s, e in up_tri:
    poly([(s, 343.3), (s, 352.7), (e, 352.7)], "#ff0000", "#ff0000", 0.5)
for s, e in dn_tri:
    poly([(s, 390.0), (e, 383.3), (e, 390.0)], "#ff0000", "#ff0000", 0.5)

# ---------- profile panels ----------
PX_PER_UNIT = 7.0
V_LO, V_HI, V_REF = 3.0, 17.0, 10.0
STRAND_GAP = 77.4
TILING_REF = 478.3
PANEL_REF = [630.0, 887.6, 1145.2, 1402.8]
axes = {}
axis_counter = [1]


def new_axis(ref_px):
    axis_counter[0] += 1
    n = axis_counter[0]
    top = ref_px - (V_HI - V_REF) * PX_PER_UNIT
    bot = ref_px + (V_REF - V_LO) * PX_PER_UNIT
    axes[f"yaxis{n}"] = dict(range=[V_LO, V_HI], domain=[1 - bot / H, 1 - top / H], anchor="x",
                             visible=False, fixedrange=True)
    return f"y{n}"


def profile(xs, ys, color, yname, lw=1.0):
    fig.add_trace(go.Scatter(x=xs, y=ys, mode="lines", line=dict(color=color, width=lw),
                             yaxis=yname, hoverinfo="skip", showlegend=False, cliponaxis=False))


# tiling array panel
tiling_up = [tU_1, tU_2, tU_3, tU_4, tU_5, tU_6, tU_7, tU_8]
tiling_dn = [tL_1, tL_2, tL_3, tL_4, tL_5, tL_6, tL_7, tL_8]
for ref_px, series, black in [(TILING_REF, tiling_up, tU_k), (TILING_REF + STRAND_GAP, tiling_dn, tL_k)]:
    yn = new_axis(ref_px)
    for v in tiling_ref:
        seg(WIN_START, WIN_END, v, v, "black", 1.6, yref=yn, layer="below")
    for vals, c in zip(series, tiling_colors):
        profile(pos_t, vals, c, yn, 1.0)
    profile(pos_t, black, "black", yn, 1.0)

# condition panels
panels = [("#008c00", gU_k, gU_g, gL_k, gL_g),
          ("#0022cc", bU_k, bU_b, bL_k, bL_b),
          ("#cc0000", rU_k, rU_r, rL_k, rL_r),
          ("#c8c800", yU_k, yU_y, yL_k, yL_y)]
REF_COLOR = "#a06262"
for ref_px, (col, uk, uc, lk, lc) in zip(PANEL_REF, panels):
    for rp, kv, cv in [(ref_px, uk, uc), (ref_px + STRAND_GAP, lk, lc)]:
        yn = new_axis(rp)
        for v in cond_ref:
            seg(WIN_START, WIN_END, v, v, REF_COLOR, 1.4, yref=yn, layer="below")
        profile(pos, kv, "black", yn, 1.0)
        profile(pos, cv, col, yn, 1.1)

# highlighted regions
FEAT_ROW = {"green": (773.3, 783.3, 766.0, "#009000"), "blue": (1030.0, 1040.0, 1023.3, "#0022cc")}
for s, e, pnl, sg in zip(feat_start, feat_end, feat_panel, feat_sign):
    y0, y1, ys, c = FEAT_ROW[pnl]
    rect(s, e, y0, y1, fill=c, line=c, lw=0.5)
    text([(s + e) / 2], [ys], [sg], size=9)

fig.update_layout(
    width=W, height=H, margin=dict(l=0, r=0, t=0, b=0),
    paper_bgcolor="white", plot_bgcolor="rgba(0,0,0,0)", showlegend=False, hovermode=False,
    xaxis=dict(range=[x_left, x_right], visible=False, fixedrange=True, domain=[0, 1], anchor="y"),
    yaxis=dict(range=[H, 0], visible=False, fixedrange=True, domain=[0, 1], anchor="x"),
    shapes=shapes,
    **axes,
)

fig.write_html("out.html", config={"displayModeBar": False, "staticPlot": True},
               post_script="document.body.style.margin='0px';document.body.style.overflow='hidden';")
